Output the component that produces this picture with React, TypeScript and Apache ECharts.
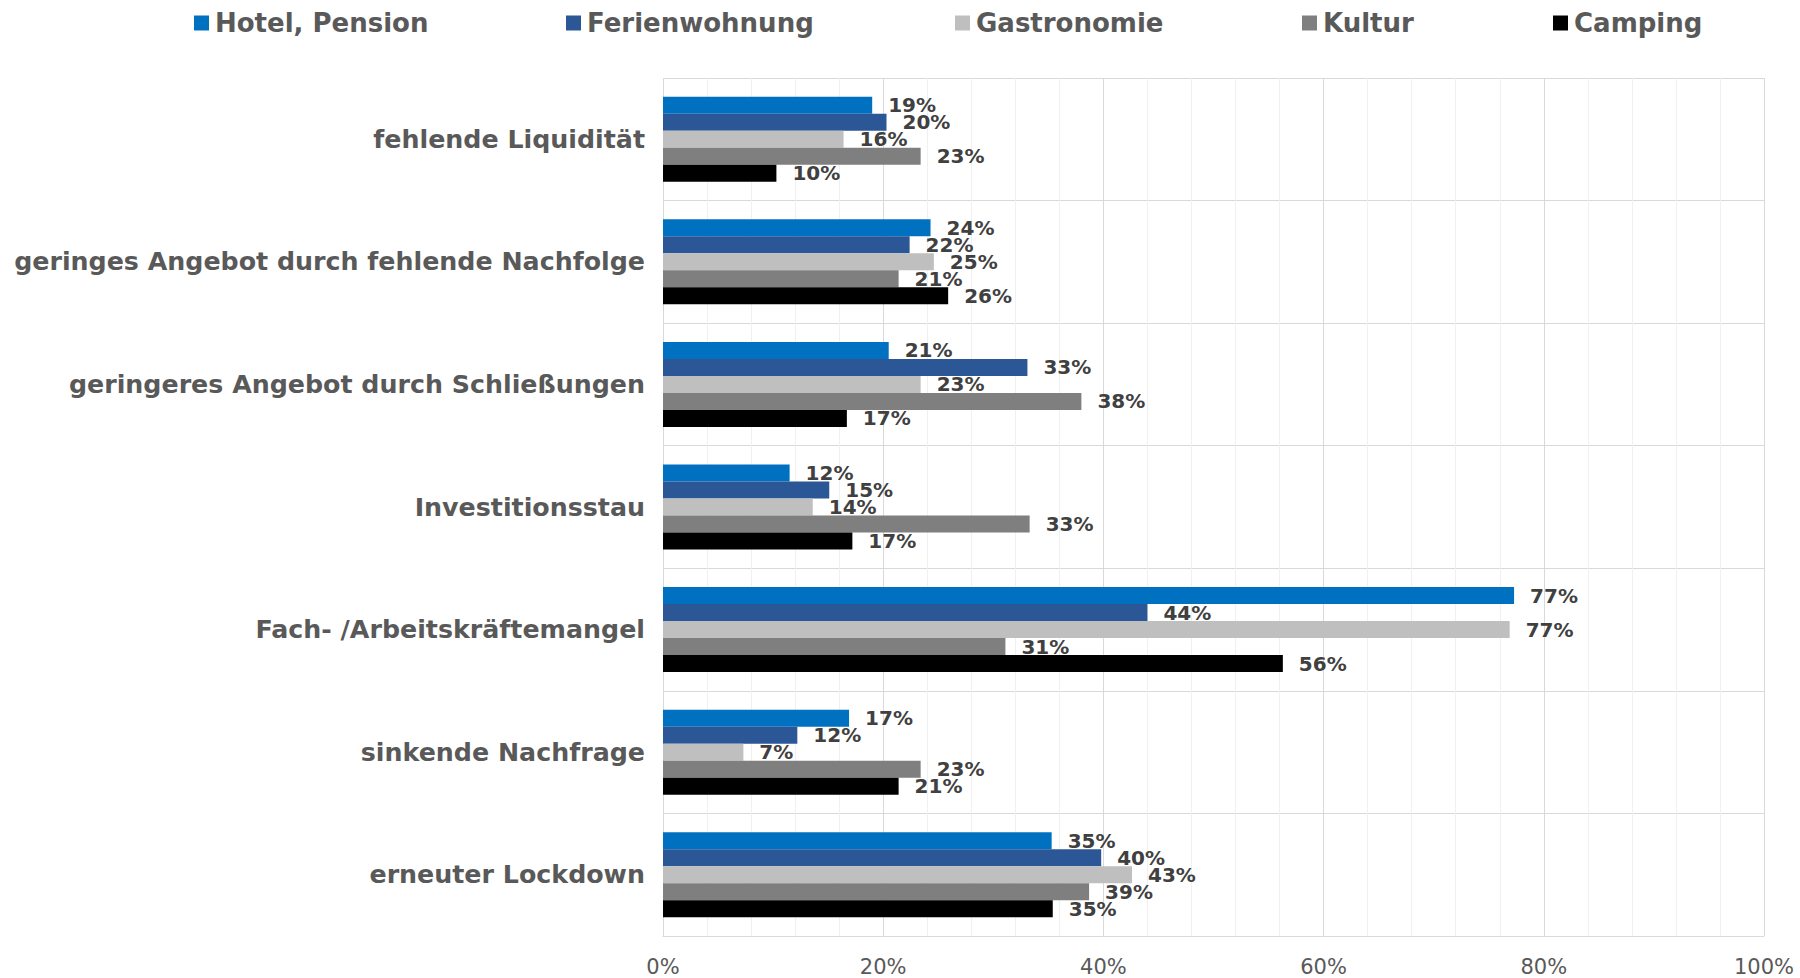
import React, { useEffect, useRef } from "react";
import * as echarts from "echarts";

const categories = [
  "fehlende Liquidität",
  "geringes Angebot durch fehlende Nachfolge",
  "geringeres Angebot durch Schließungen",
  "Investitionsstau",
  "Fach- /Arbeitskräftemangel",
  "sinkende Nachfrage",
  "erneuter Lockdown",
];

const seriesNames = ["Hotel, Pension", "Ferienwohnung", "Gastronomie", "Kultur", "Camping"];
const seriesColors = ["#0070C0", "#2B5797", "#BFBFBF", "#7F7F7F", "#000000"];
const legendLefts = [194, 566, 955, 1302, 1553];

const hotelPension = [19.0, 24.3, 20.5, 11.5, 77.3, 16.9, 35.3];
const ferienwohnung = [20.3, 22.4, 33.1, 15.1, 44.0, 12.2, 39.8];
const gastronomie = [16.4, 24.6, 23.4, 13.6, 76.9, 7.3, 42.6];
const kultur = [23.4, 21.4, 38.0, 33.3, 31.1, 23.4, 38.7];
const camping = [10.3, 25.9, 16.7, 17.2, 56.3, 21.4, 35.4];

const seriesValues = [hotelPension, ferienwohnung, gastronomie, kultur, camping];

const FONT = "DejaVu Sans";

export default function App() {
  const ref = useRef<HTMLDivElement>(null);
  useEffect(() => {
    if (!ref.current) return;
    const chart = echarts.init(ref.current, null, { renderer: "svg" });
    chart.setOption({
      animation: false,
      backgroundColor: "#ffffff",
      legend: seriesNames.map((name, i) => ({
        top: 10,
        left: legendLefts[i],
        padding: 0,
        itemWidth: 15,
        itemHeight: 15,
        icon: "rect",
        textStyle: { fontFamily: FONT, fontSize: 26, fontWeight: "bold", color: "#595959", padding: [0, 0, 0, 1] },
        data: [name],
      })),
      grid: { left: 663, right: 36, top: 78, bottom: 42, containLabel: false },
      xAxis: {
        type: "value",
        min: 0,
        max: 100,
        interval: 20,
        axisLine: { show: true, lineStyle: { color: "#D9D9D9", width: 1 } },
        axisTick: { show: false },
        axisLabel: {
          formatter: "{value}%",
          fontFamily: FONT,
          fontSize: 21,
          color: "#595959",
          margin: 20,
        },
        splitLine: { show: true, lineStyle: { color: "#D9D9D9", width: 1 } },
        minorTick: { show: false, splitNumber: 5 },
        minorSplitLine: { show: true, lineStyle: { color: "#F0F0F0", width: 1 } },
      },
      yAxis: {
        type: "category",
        inverse: true,
        data: categories,
        axisLine: { show: false },
        axisTick: { show: false },
        axisLabel: {
          fontFamily: FONT,
          fontSize: 25.3,
          fontWeight: "bold",
          color: "#595959",
          margin: 18,
        },
        splitLine: { show: true, lineStyle: { color: "#D9D9D9", width: 1 } },
      },
      series: seriesNames.map((name, i) => ({
        name,
        type: "bar",
        data: seriesValues[i],
        barWidth: 17,
        barGap: "0%",
        itemStyle: { color: seriesColors[i] },
        label: {
          show: true,
          position: "right",
          distance: 16,
          formatter: (p: any) => Math.round(p.value) + "%",
          fontFamily: FONT,
          fontSize: 20,
          lineHeight: 16,
          fontWeight: "bold",
          color: "#404040",
        },
      })),
    });
    return () => chart.dispose();
  }, []);
  return (
    <div
      ref={ref}
      style={{ position: "fixed", left: 0, top: 0, width: 1800, height: 978 }}
    />
  );
}
